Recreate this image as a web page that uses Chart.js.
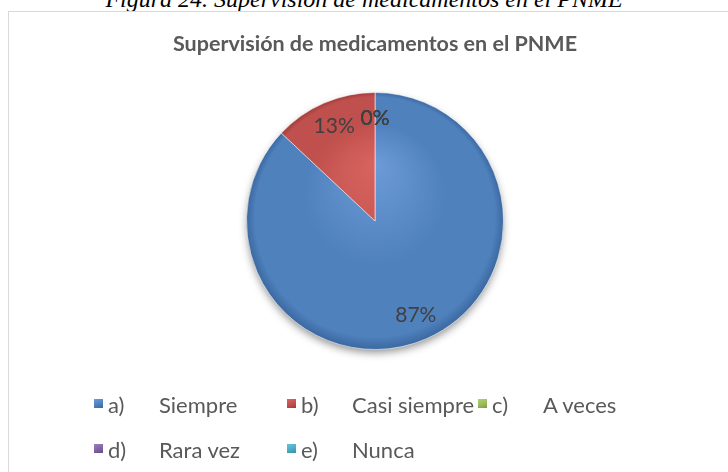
<!DOCTYPE html>
<html>
<head>
<meta charset="utf-8">
<script src="https://cdn.jsdelivr.net/npm/chart.js@4.4.1/dist/chart.umd.min.js"></script>
<style>
  html, body { margin: 0; padding: 0; background: #fff; }
  body { width: 728px; height: 472px; position: relative; overflow: hidden; }
  #caption {
    position: absolute; left: 0; width: 728px; top: -14px; line-height: 24px;
    text-align: center; font: italic 24px "Liberation Serif", serif; color: #000;
  }
  #frame {
    position: absolute; left: 8px; top: 11px; width: 740px; height: 480px;
    border: 1.5px solid #d9d9d9; box-sizing: border-box;
  }
  canvas { position: absolute; left: 0; top: 0; }
  #legend { position: absolute; left: 0; top: 0; font: 22px Lato, sans-serif; color: #595959; }
  .item { position: absolute; height: 26px; line-height: 26px; white-space: nowrap; }
  .box { position: absolute; left: 0; top: 7px; width: 9px; height: 9px; }
  .key { position: absolute; left: 14px; }
  .name { position: absolute; left: 65px; }
</style>
</head>
<body>
<div id="caption">Figura 24. Supervisión de medicamentos en el PNME</div>
<div id="frame"></div>
<canvas id="chart" width="728" height="472"></canvas>
<div id="legend"></div>
<script>
// data
const title = 'Supervisión de medicamentos en el PNME';
const categories = ['a)\tSiempre', 'b)\tCasi siempre', 'c)\tA veces', 'd)\tRara vez', 'e)\tNunca'];
const percents = [87, 13, 0, 0, 0];
const colors = ['#4F81BD', '#C0504D', '#9BBB59', '#8064A2', '#4BACC6'];
const lightColors = ['#6C9BD8', '#D8645F', '#B3D070', '#9A7DBE', '#66C3DC'];
const darkColors = ['#3A679F', '#9E3B38', '#7C9A42', '#654C86', '#3A8EA6'];

// legend grid (Excel style, fixed columns)
const legendPos = [[94, 392], [287, 392], [478, 392], [94, 437], [287, 437]];

function sliceFill(context) {
  const i = context.dataIndex;
  const chart = context.chart;
  const area = chart.chartArea;
  if (!area) return colors[i];
  const cx = (area.left + area.right) / 2;
  const cy = (area.top + area.bottom) / 2;
  const r = Math.min(area.width, area.height) / 2;
  const g = chart.ctx.createRadialGradient(cx, cy - r * 0.45, 0, cx, cy, r);
  g.addColorStop(0, lightColors[i]);
  g.addColorStop(0.55, colors[i]);
  g.addColorStop(0.93, colors[i]);
  g.addColorStop(1, darkColors[i]);
  return g;
}

const shadowPlugin = {
  id: 'pieShadow',
  beforeDatasetsDraw(chart) {
    const arc = chart.getDatasetMeta(0).data[0];
    if (!arc) return;
    const ctx = chart.ctx;
    ctx.save();
    ctx.shadowColor = 'rgba(0,0,0,0.45)';
    ctx.shadowBlur = 9;
    ctx.shadowOffsetY = 4;
    ctx.fillStyle = '#3A679F';
    ctx.beginPath();
    ctx.arc(arc.x, arc.y, arc.outerRadius - 1, 0, Math.PI * 2);
    ctx.fill();
    ctx.restore();
  }
};

const labelPlugin = {
  id: 'pctLabels',
  afterDatasetsDraw(chart) {
    const ctx = chart.ctx;
    const meta = chart.getDatasetMeta(0);
    ctx.save();
    ctx.font = '21px Lato, sans-serif';
    ctx.fillStyle = '#404040';
    ctx.textAlign = 'center';
    ctx.textBaseline = 'middle';
    meta.data.forEach(function (arc, i) {
      const p = arc.getProps(['x', 'y', 'startAngle', 'endAngle', 'outerRadius'], true);
      const mid = (p.startAngle + p.endAngle) / 2;
      const d = p.outerRadius * 0.8;
      ctx.fillText(percents[i] + '%', p.x + Math.cos(mid) * d, p.y + Math.sin(mid) * d);
    });
    ctx.restore();
  }
};

const chart = new Chart(document.getElementById('chart').getContext('2d'), {
  type: 'pie',
  data: {
    labels: categories.map(c => c.replace('\t', ' ')),
    datasets: [{
      data: percents,
      backgroundColor: sliceFill,
      borderColor: 'rgba(255,255,255,0.55)',
      borderWidth: 1
    }]
  },
  options: {
    responsive: false,
    animation: false,
    layout: { padding: { left: 30, right: 8, top: 31, bottom: 122 } },
    plugins: {
      legend: { display: false },
      tooltip: { enabled: false },
      title: {
        display: true,
        text: title,
        color: '#595959',
        font: { family: 'Lato', size: 21.5, weight: 'bold' },
        padding: { top: 0, bottom: 35.2 }
      }
    }
  },
  plugins: [shadowPlugin, labelPlugin]
});

const legend = document.getElementById('legend');
categories.forEach(function (c, i) {
  const parts = c.split('\t');
  const item = document.createElement('div');
  item.className = 'item';
  item.style.left = legendPos[i][0] + 'px';
  item.style.top = legendPos[i][1] + 'px';
  item.innerHTML = '<span class="box" style="background:linear-gradient(160deg,' + lightColors[i] + ',' + colors[i] + ' 55%,' + darkColors[i] + ')"></span>' +
    '<span class="key">' + parts[0] + '</span><span class="name">' + parts[1] + '</span>';
  legend.appendChild(item);
});
</script>
</body>
</html>
